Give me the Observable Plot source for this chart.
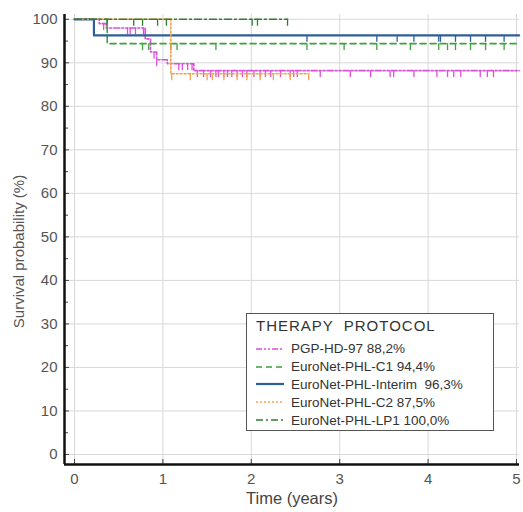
<!DOCTYPE html>
<html>
<head>
<meta charset="utf-8">
<script src="https://cdn.jsdelivr.net/npm/d3@7"></script>
<script src="https://cdn.jsdelivr.net/npm/@observablehq/plot@0.6"></script>
<style>
  html, body { margin: 0; padding: 0; background: #fff; }
  #wrap { position: relative; width: 523px; height: 512px; font-family: "Liberation Sans", Arial, sans-serif; }
  #legend {
    position: absolute; left: 246px; top: 313px; width: 248px; height: 118px;
    border: 1.5px solid #555; background: #fff; box-sizing: border-box;
    padding: 3px 0 0 9px; color: #333;
  }
  #legend .title { font-size: 15px; letter-spacing: 1px; word-spacing: 5px; margin-bottom: 4px; height: 19px; }
  #legend .row { display: flex; align-items: center; height: 17.8px; font-size: 13.5px; white-space: pre; }
  #legend svg { margin-right: 7px; }
</style>
</head>
<body>
<div id="wrap">
  <div id="chart"></div>
  <div id="legend"></div>
</div>
<script>
// Kaplan–Meier event-free survival by therapy protocol (time in years, survival in %)
const protocols = ["PGP-HD-97", "EuroNet-PHL-C1", "EuroNet-PHL-Interim ", "EuroNet-PHL-C2", "EuroNet-PHL-LP1"];
const finalRates = ["88,2%", "94,4%", "96,3%", "87,5%", "100,0%"];

// step points: time of each change and survival after it
const pgpTime = [0, 0.28, 0.36, 0.80, 0.86, 0.93, 1.05, 1.35, 5.03];
const pgpSurv = [100, 99.0, 98.0, 95.5, 92.5, 90.7, 89.8, 88.2, 88.2];
const c1Time = [0, 0.37, 5.03];
const c1Surv = [100, 94.4, 94.4];
const interimTime = [0, 0.22, 5.03];
const interimSurv = [100, 96.3, 96.3];
const c2Time = [0, 1.09, 2.65];
const c2Surv = [100, 87.5, 87.5];
const lp1Time = [0, 2.41];
const lp1Surv = [100, 100];

// censored observations (years)
const pgpCensor = [0.33, 0.60, 0.63, 0.69, 0.78, 0.90, 0.93, 1.18, 1.22, 1.28, 1.33, 1.39, 1.46, 1.54, 1.60, 1.63,
  1.69, 1.73, 1.78, 1.84, 1.90, 1.95, 2.03, 2.10, 2.16, 2.22, 2.33, 2.44, 2.48, 2.52, 2.78, 3.12, 3.35, 3.57,
  3.61, 3.84, 4.10, 4.22, 4.29, 4.37, 4.59, 4.67, 4.74];
const c1Censor = [0.77, 0.84, 1.09, 1.16, 1.60, 2.63, 3.05, 3.42, 3.80, 4.12, 4.22, 4.31, 4.48, 4.65, 4.86];
const interimCensor = [2.63, 3.42, 3.65, 3.84, 4.12, 4.14, 4.31, 4.48, 4.65, 4.86];
const c2Censor = [1.10, 1.31, 1.50, 1.56, 1.69, 1.84, 1.95, 2.10, 2.25, 2.44, 2.65];
const lp1Censor = [0.37, 0.67, 0.77, 0.94, 1.04, 2.01, 2.07, 2.41];

const xTicks = [0, 1, 2, 3, 4, 5];
const yTicks = [0, 10, 20, 30, 40, 50, 60, 70, 80, 90, 100];
const yMinorTicks = [5, 15, 25, 35, 45, 55, 65, 75, 85, 95];

const styles = [
  {color: "#dc4fdc", dash: "6,2,2,2,2,2", width: 1.6},
  {color: "#3aa33a", dash: "6,4", width: 1.6},
  {color: "#2f5f98", dash: null, width: 2.2},
  {color: "#f5a24a", dash: "2,2", width: 1.6},
  {color: "#2e7d32", dash: "7,3,2,3", width: 1.6}
];

const stepSets = [
  [pgpTime, pgpSurv, pgpCensor],
  [c1Time, c1Surv, c1Censor],
  [interimTime, interimSurv, interimCensor],
  [c2Time, c2Surv, c2Censor],
  [lp1Time, lp1Surv, lp1Censor]
];

function survivalAt(times, surv, t) {
  let s = surv[0];
  for (let i = 0; i < times.length; i++) if (times[i] <= t) s = surv[i];
  return s;
}

const xMin = -0.113, xMax = 5.034, yMin = -2.3, yMax = 101.1;

const curveMarks = [];
stepSets.forEach(([times, surv, censor], i) => {
  const st = styles[i];
  const pts = times.map((t, j) => ({t, s: surv[j]}));
  const cens = censor.map(t => ({t, s: survivalAt(times, surv, t)}));
  curveMarks.push(Plot.line(pts, {x: "t", y: "s", curve: "step-after", stroke: st.color,
    strokeWidth: st.width, strokeDasharray: st.dash}));
  curveMarks.push(Plot.ruleX(cens, {x: "t", y1: "s", y2: d => d.s - 1.6, stroke: st.color, strokeWidth: 1.3}));
});

const chart = Plot.plot({
  width: 523,
  height: 512,
  marginLeft: 64,
  marginRight: 4,
  marginTop: 14,
  marginBottom: 48,
  x: {domain: [xMin, xMax]},
  y: {domain: [yMin, yMax]},
  style: {fontFamily: "Liberation Sans, Arial, sans-serif", fontSize: "15px", color: "#444", background: "#fff"},
  marks: [
    Plot.gridX(xTicks, {stroke: "#d8d8d8", strokeOpacity: 1}),
    Plot.gridY(yTicks, {stroke: "#d8d8d8", strokeOpacity: 1}),
    Plot.axisX(xTicks, {tickSize: -5, tickPadding: 14, label: null, stroke: "#444", fill: "#555"}),
    Plot.axisY(yTicks, {tickSize: -5, tickPadding: 12, label: null, stroke: "#444", fill: "#555"}),
    Plot.axisY(yMinorTicks, {tickSize: -4, tickFormat: () => "", label: null, stroke: "#444"}),
    ...curveMarks,
    Plot.ruleX([xMin], {stroke: "#111", strokeWidth: 2.5}),
    Plot.ruleY([yMin], {stroke: "#111", strokeWidth: 2.5}),
    Plot.text(["Time (years)"], {frameAnchor: "bottom", dy: 39, fontSize: 16.5, fill: "#444",
      style: "letter-spacing:0.3px"}),
    Plot.text(["Survival probability (%)"], {frameAnchor: "left", textAnchor: "middle", rotate: -90,
      dx: -45, dy: 12, fontSize: 15, fill: "#555", style: "letter-spacing:0.6px"})
  ]
});
document.getElementById("chart").appendChild(chart);

// legend
const legend = document.getElementById("legend");
const title = document.createElement("div");
title.className = "title";
title.textContent = "THERAPY PROTOCOL";
legend.appendChild(title);
protocols.forEach((name, i) => {
  const st = styles[i];
  const row = document.createElement("div");
  row.className = "row";
  row.innerHTML = `<svg width="28" height="8"><line x1="0" y1="4" x2="28" y2="4" stroke="${st.color}" stroke-width="${st.width}" ${st.dash ? `stroke-dasharray="${st.dash}"` : ""}/></svg><span>${name} ${finalRates[i]}</span>`;
  legend.appendChild(row);
});
</script>
</body>
</html>
